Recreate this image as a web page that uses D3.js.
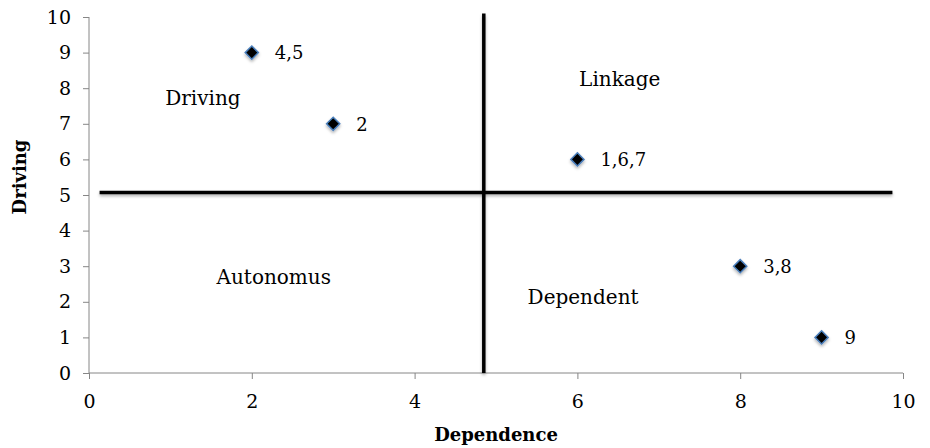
<!DOCTYPE html>
<html>
<head>
<meta charset="utf-8">
<script src="https://cdn.jsdelivr.net/npm/d3@7"></script>
<style>
  body { margin: 0; background: #fff; }
  svg { font-family: "DejaVu Serif", "Liberation Serif", serif; }
  .axis path, .axis line { stroke: #868686; }
</style>
</head>
<body>
<svg width="930" height="448"></svg>
<script>
// points: dependence (x), driving (y), label
const dependence = [2, 3, 6, 8, 9];
const driving = [9, 7, 6, 3, 1];
const pointLabels = ['4,5', '2', '1,6,7', '3,8', '9'];

// quadrant names and where they sit (data units)
const quadrantNames = ['Driving', 'Linkage', 'Autonomus', 'Dependent'];
const quadrantX = [1.40, 6.52, 2.27, 6.07];
const quadrantY = [7.72, 8.26, 2.70, 2.13];

// the two dividing lines
const vLineX = 4.85;
const vLineY = [0, 10.1];
const hLineY = 5.07;
const hLineX = [0.13, 9.87];

const xTicks = [0, 2, 4, 6, 8, 10];
const yTicks = [0, 1, 2, 3, 4, 5, 6, 7, 8, 9, 10];

const margin = { top: 17, right: 27, bottom: 75, left: 89 };
const width = 930, height = 448;
const innerWidth = width - margin.left - margin.right;
const innerHeight = height - margin.top - margin.bottom;

const svg = d3.select('svg');

// shadow for the markers and lines (user space so thin lines still render)
const defs = svg.append('defs');
const f = defs.append('filter').attr('id', 'shadow')
    .attr('filterUnits', 'userSpaceOnUse')
    .attr('x', -50).attr('y', -50).attr('width', 1030).attr('height', 548);
f.append('feDropShadow').attr('dx', 0).attr('dy', 2).attr('stdDeviation', 1.8)
    .attr('flood-color', '#000').attr('flood-opacity', 0.3);

const g = svg.append('g').attr('transform', `translate(${margin.left},${margin.top})`);

const xScale = d3.scaleLinear().domain([0, 10]).range([0, innerWidth]);
const yScale = d3.scaleLinear().domain([0, 10]).range([innerHeight, 0]);

// ======================= AXES ===============================
const styleTicks = a => a.selectAll('.tick text')
    .style('font-size', '19px')
    .style('font-family', '"DejaVu Serif", serif')
    .attr('fill', '#000');

g.append('g')
    .attr('class', 'axis')
    .attr('transform', `translate(0,${innerHeight})`)
    .call(d3.axisBottom(xScale).tickValues(xTicks).tickSize(6).tickSizeOuter(0).tickPadding(16))
    .call(a => a.select('.domain').attr('d', `M0,0H${innerWidth}`))
    .call(styleTicks);

g.append('g')
    .attr('class', 'axis')
    .call(d3.axisLeft(yScale).tickValues(yTicks).tickSize(6).tickSizeOuter(0).tickPadding(12))
    .call(a => a.select('.domain').attr('d', `M0,0V${innerHeight}`))
    .call(styleTicks);

// ======================= DIVIDERS ===============================
g.append('line')
    .attr('x1', xScale(vLineX)).attr('x2', xScale(vLineX))
    .attr('y1', yScale(vLineY[0])).attr('y2', yScale(vLineY[1]))
    .attr('stroke', '#000').attr('stroke-width', 3.5)
    .attr('filter', 'url(#shadow)');

g.append('line')
    .attr('x1', xScale(hLineX[0])).attr('x2', xScale(hLineX[1]))
    .attr('y1', yScale(hLineY)).attr('y2', yScale(hLineY))
    .attr('stroke', '#000').attr('stroke-width', 3.5)
    .attr('filter', 'url(#shadow)');

// ======================= QUADRANT NAMES ===============================
g.selectAll('.quad')
    .data(quadrantNames)
    .enter()
    .append('text')
    .attr('class', 'quad')
    .attr('x', (d, i) => xScale(quadrantX[i]))
    .attr('y', (d, i) => yScale(quadrantY[i]))
    .attr('dy', '0.35em')
    .attr('text-anchor', 'middle')
    .style('font-size', '20px')
    .text(d => d);

// ======================= POINTS ===============================
const diamond = d3.symbol().type(d3.symbolDiamond2).size(110);

g.selectAll('.pt')
    .data(dependence)
    .enter()
    .append('path')
    .attr('class', 'pt')
    .attr('d', diamond)
    .attr('transform', (d, i) => `translate(${xScale(d)},${yScale(driving[i])})`)
    .attr('fill', '#000')
    .attr('stroke', '#4a7ebb')
    .attr('stroke-width', 1.5)
    .attr('filter', 'url(#shadow)');

g.selectAll('.pt-label')
    .data(pointLabels)
    .enter()
    .append('text')
    .attr('class', 'pt-label')
    .attr('x', (d, i) => xScale(dependence[i]) + 23)
    .attr('y', (d, i) => yScale(driving[i]))
    .attr('dy', '0.38em')
    .style('font-size', '18px')
    .text(d => d);

// ======================= TITLES ===============================
svg.append('text')
    .text('Dependence')
    .attr('x', margin.left + xScale(5))
    .attr('y', 441)
    .attr('text-anchor', 'middle')
    .style('font-size', '18px')
    .style('font-weight', 'bold');

svg.append('text')
    .text('Driving')
    .attr('transform', 'translate(26,177) rotate(-90)')
    .attr('text-anchor', 'middle')
    .style('font-size', '18px')
    .style('font-weight', 'bold');
</script>
</body>
</html>
